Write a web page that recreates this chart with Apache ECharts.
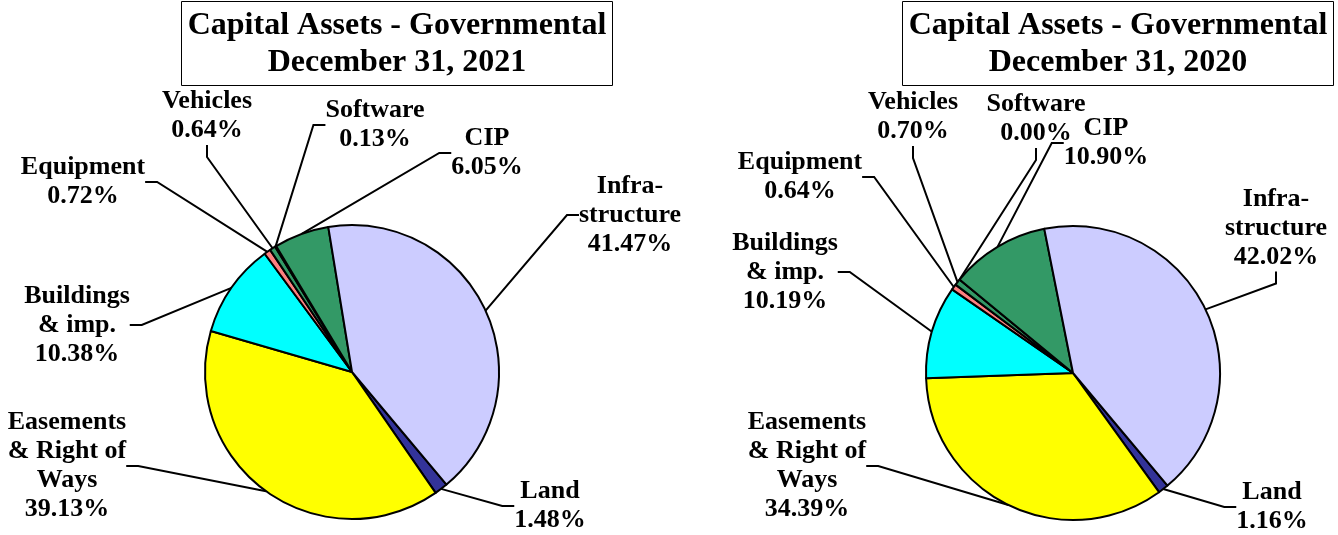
<!DOCTYPE html>
<html>
<head>
<meta charset="utf-8">
<title>Capital Assets - Governmental</title>
<script src="https://cdn.jsdelivr.net/npm/echarts@6/dist/echarts.min.js"></script>
<style>
  html, body { margin: 0; padding: 0; background: #fff; }
  #chart { width: 1338px; height: 535px; }
</style>
</head>
<body>
<div id="chart"></div>
<script>
// slice order follows the original workbook (clockwise from Land)
const categories = [
  "Land",
  "Easements\n& Right of\nWays",
  "Buildings\n& imp.",
  "Equipment",
  "Vehicles",
  "Software",
  "CIP",
  "Infra-\nstructure",
];
const values2021 = [1.48, 39.13, 10.38, 0.72, 0.64, 0.13, 6.05, 41.47];
const values2020 = [1.16, 34.39, 10.19, 0.64, 0.70, 0.00, 10.90, 42.02];
const titles = [
  "Capital Assets - Governmental\nDecember 31, 2021",
  "Capital Assets - Governmental\nDecember 31, 2020",
];

const sliceColors = ["#333399", "#ffff00", "#00ffff", "#ff8080", "#339966", "#1a4d33", "#339966", "#ccccff"];
const FONT = "'Liberation Serif', 'Times New Roman', serif";

// where each label block sits (centre of the text block)
const labelPos2021 = [[550, 506], [67, 466], [77, 325], [83, 182], [207, 116], [375, 125], [487, 153], [630, 215]];
const labelPos2020 = [[1272, 507], [807, 466], [785, 272], [800, 177], [913, 117], [1036, 119], [1106, 143], [1276, 228]];

const chart = echarts.init(document.getElementById("chart"), null, { renderer: "canvas" });

function buildData(values) {
  return categories.map((name, i) => ({
    name,
    value: values[i],
    itemStyle: { color: sliceColors[i] },
  }));
}

// textAlign center shifts the box; the left padding gets added on top
function buildTitle(text, left) {
  return {
    text,
    left,
    top: 1,
    textAlign: "center",
    padding: [6, 6, 5, 6],
    borderColor: "#000",
    borderWidth: 1,
    textStyle: {
      fontFamily: FONT,
      fontWeight: "bold",
      fontSize: 32,
      lineHeight: 37,
      color: "#000",
    },
  };
}

function buildPie(values, center, positions) {
  return {
    type: "pie",
    center,
    radius: 147,
    startAngle: -50,
    clockwise: true,
    avoidLabelOverlap: false,
    silent: true,
    data: buildData(values),
    itemStyle: { borderColor: "#000", borderWidth: 2 },
    label: {
      show: true,
      position: "outside",
      formatter: (p) => p.name + "\n" + p.value.toFixed(2) + "%",
      fontFamily: FONT,
      fontWeight: "bold",
      fontSize: 26,
      lineHeight: 29,
      color: "#000",
      align: "center",
    },
    labelLine: {
      show: true,
      length: 10,
      length2: 12,
      lineStyle: { color: "#000", width: 2 },
    },
    labelLayout: (params) => {
      const p = positions[params.dataIndex];
      return { x: p[0], y: p[1], align: "center", verticalAlign: "middle" };
    },
  };
}

chart.setOption({
  animation: false,
  backgroundColor: "#fff",
  title: [
    buildTitle(titles[0], 391),
    buildTitle(titles[1], 1112),
  ],
  series: [
    buildPie(values2021, [352, 372], labelPos2021),
    buildPie(values2020, [1073, 373], labelPos2020),
  ],
});

window.addEventListener("resize", () => chart.resize());
</script>
</body>
</html>
